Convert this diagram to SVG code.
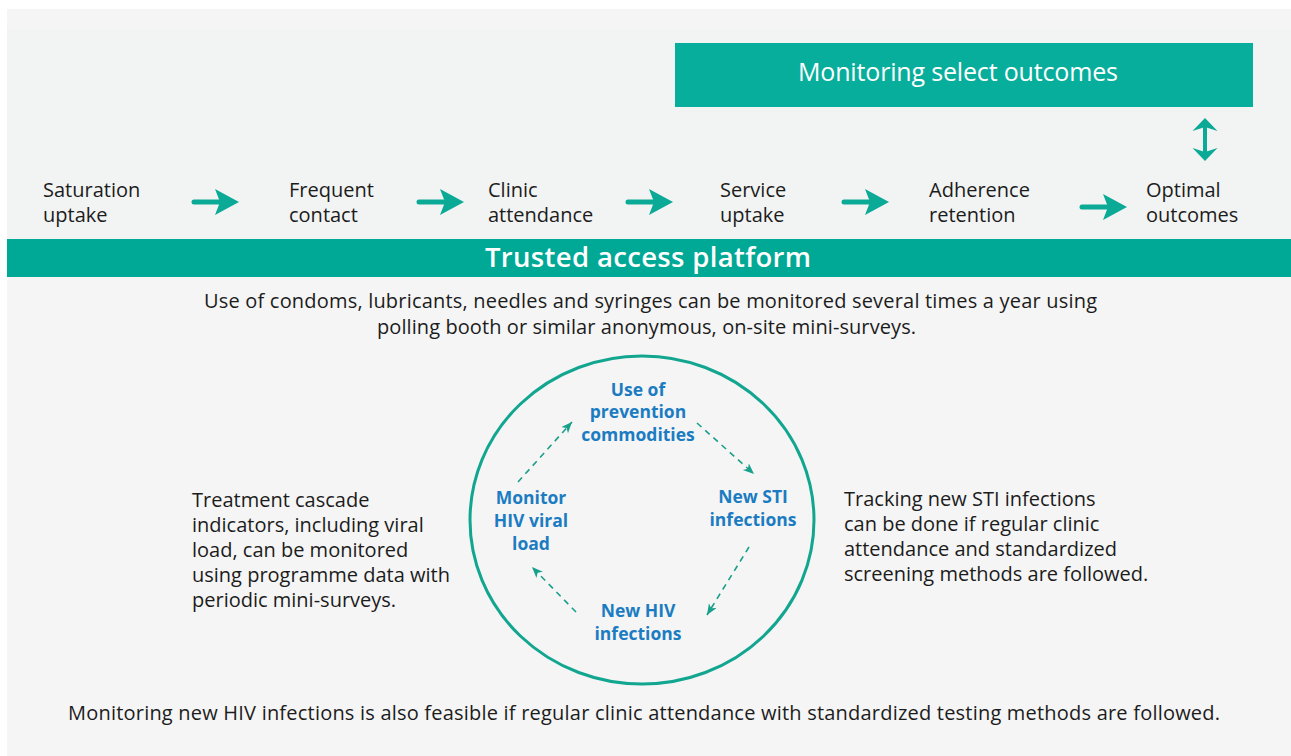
<svg xmlns="http://www.w3.org/2000/svg" width="1291" height="756" viewBox="0 0 1291 756">
<style>
  .t { font-family: "Open Sans", "Liberation Sans", Arial, sans-serif; font-size: 20px; fill: #1c1c1c; }
  .w { font-family: "Open Sans", "Liberation Sans", Arial, sans-serif; fill: #ffffff; }
  .b { font-family: "Open Sans", "Liberation Sans", Arial, sans-serif; font-size: 17.5px; font-weight: 700; fill: #1b7cc2; text-anchor: middle; }
  .teal { fill: #0aaa96; }
  .dash { fill: none; stroke: #1b9e8a; stroke-width: 1.6; stroke-dasharray: 6 5; marker-end: url(#dh); }
</style>
<defs>
  <marker id="dh" markerUnits="userSpaceOnUse" markerWidth="12" markerHeight="10" refX="11" refY="4.5" orient="auto">
    <path d="M0,0 L11,4.5 L0,9 L3,4.5 Z" fill="#17a08b"/>
  </marker>
  <g id="harrow">
    <line x1="2" y1="0" x2="34" y2="0" stroke="#0aaa96" stroke-width="5" stroke-linecap="round"/>
    <path d="M47,0 L23,-13 L28,0 L23,13 Z" fill="#0aaa96"/>
  </g>
</defs>

<rect x="0" y="0" width="1291" height="756" fill="#ffffff"/>
<rect x="7" y="9" width="1284" height="747" fill="#f5f5f5"/>
<rect x="7" y="29" width="1284" height="210" fill="#f2f3f3"/>

<g id="monitoring-box">
  <rect x="675" y="43" width="578" height="64" fill="#07ae9c"/>
  <text class="w" x="958" y="81" font-size="25" text-anchor="middle" textLength="320" lengthAdjust="spacing">Monitoring select outcomes</text>
</g>

<g id="platform-band">
  <rect x="7" y="239" width="1284" height="38" fill="#00a896"/>
  <text class="w" x="648" y="267" font-size="27.5" font-weight="600" text-anchor="middle" textLength="326" lengthAdjust="spacing">Trusted access platform</text>
</g>

<g id="step-saturation"><text class="t" x="43" y="197">Saturation</text><text class="t" x="43" y="222">uptake</text></g>
<g id="step-frequent"><text class="t" x="289" y="197">Frequent</text><text class="t" x="289" y="222">contact</text></g>
<g id="step-clinic"><text class="t" x="488" y="197">Clinic</text><text class="t" x="488" y="222">attendance</text></g>
<g id="step-service"><text class="t" x="720" y="197">Service</text><text class="t" x="720" y="222">uptake</text></g>
<g id="step-adherence"><text class="t" x="929" y="197">Adherence</text><text class="t" x="929" y="222">retention</text></g>
<g id="step-optimal"><text class="t" x="1146" y="197">Optimal</text><text class="t" x="1146" y="222">outcomes</text></g>

<g id="connectors">
  <use href="#harrow" transform="translate(192,202)"/>
  <use href="#harrow" transform="translate(417,202)"/>
  <use href="#harrow" transform="translate(626,202)"/>
  <use href="#harrow" transform="translate(842,202)"/>
  <use href="#harrow" transform="translate(1080,207)"/>
  <g id="double-arrow" class="teal">
    <rect x="1203" y="125" width="4" height="30"/>
    <path d="M1205,118 L1217.5,131 L1205,127 L1192.5,131 Z"/>
    <path d="M1205,161 L1217.5,148 L1205,152 L1192.5,148 Z"/>
  </g>
  <line class="dash" x1="518" y1="482" x2="572" y2="422"/>
  <line class="dash" x1="697" y1="423" x2="754" y2="474"/>
  <line class="dash" x1="749" y1="547" x2="707" y2="615"/>
  <line class="dash" x1="576" y1="612" x2="532" y2="567"/>
</g>

<g id="top-note">
  <text class="t" x="650.5" y="308" text-anchor="middle" textLength="893" lengthAdjust="spacing">Use of condoms, lubricants, needles and syringes can be monitored several times a year using</text>
  <text class="t" x="646.5" y="334" text-anchor="middle" textLength="539" lengthAdjust="spacing">polling booth or similar anonymous, on-site mini-surveys.</text>
</g>

<g id="cycle-circle">
  <ellipse cx="642" cy="520" rx="172" ry="164" fill="none" stroke="#12a690" stroke-width="3"/>
</g>

<g id="node-prevention">
  <text class="b" x="638" y="396">Use of</text>
  <text class="b" x="638" y="418">prevention</text>
  <text class="b" x="638" y="441">commodities</text>
</g>
<g id="node-sti">
  <text class="b" x="753" y="503">New STI</text>
  <text class="b" x="753" y="526">infections</text>
</g>
<g id="node-hiv">
  <text class="b" x="638" y="617">New HIV</text>
  <text class="b" x="638" y="640">infections</text>
</g>
<g id="node-viral">
  <text class="b" x="531" y="504">Monitor</text>
  <text class="b" x="531" y="527">HIV viral</text>
  <text class="b" x="531" y="550">load</text>
</g>

<g id="left-note">
  <text class="t" x="192" y="507">Treatment cascade</text>
  <text class="t" x="192" y="532">indicators, including viral</text>
  <text class="t" x="192" y="557">load, can be monitored</text>
  <text class="t" x="192" y="582">using programme data with</text>
  <text class="t" x="192" y="607">periodic mini-surveys.</text>
</g>

<g id="right-note">
  <text class="t" x="844" y="506">Tracking new STI infections</text>
  <text class="t" x="844" y="531">can be done if regular clinic</text>
  <text class="t" x="844" y="556">attendance and standardized</text>
  <text class="t" x="844" y="581">screening methods are followed.</text>
</g>

<g id="bottom-note">
  <text class="t" x="644" y="720" text-anchor="middle" textLength="1152" lengthAdjust="spacing">Monitoring new HIV infections is also feasible if regular clinic attendance with standardized testing methods are followed.</text>
</g>
</svg>
